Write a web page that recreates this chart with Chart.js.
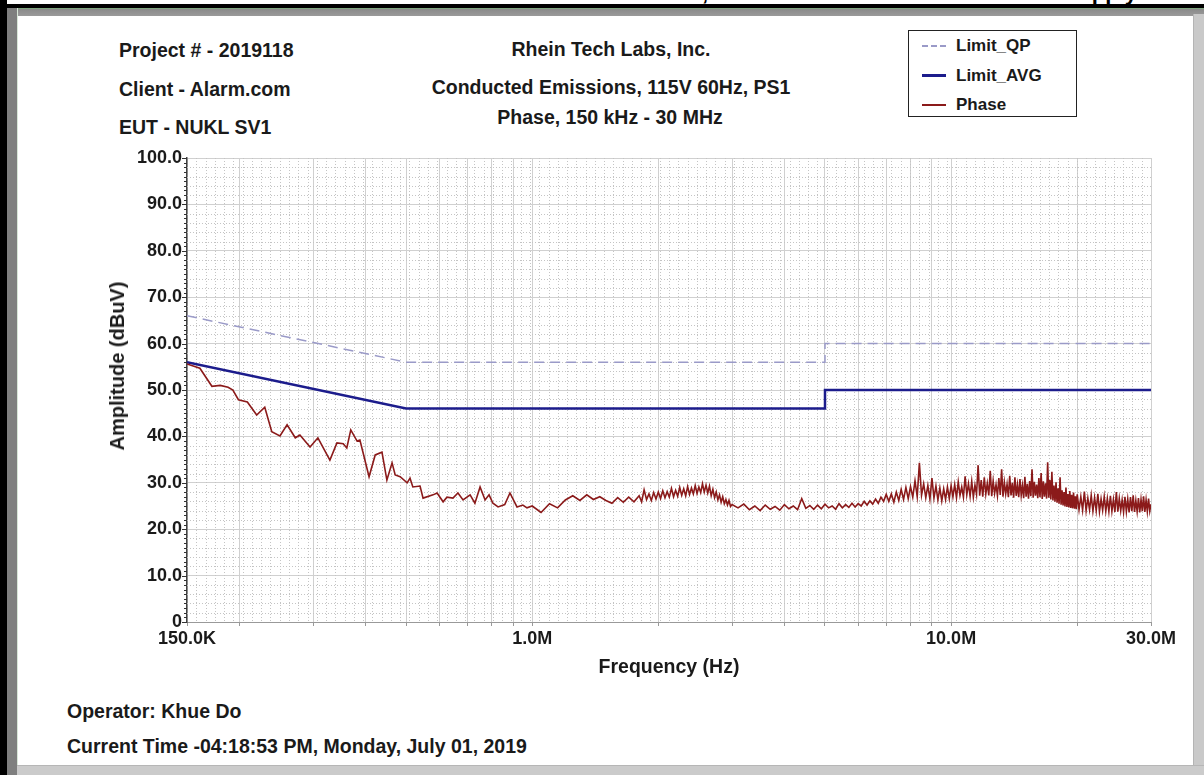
<!DOCTYPE html>
<html>
<head>
<meta charset="utf-8">
<script src="https://cdn.jsdelivr.net/npm/chart.js@4.4.0/dist/chart.umd.min.js"></script>
<style>
  body { margin: 0; width: 1204px; height: 775px; overflow: hidden; background: #fff;
         font-family: "Liberation Sans", Arial, sans-serif; position: relative; }
  .fr { position: absolute; }
  .t { position: absolute; font-weight: bold; font-size: 19.5px; line-height: 19.5px; color: #1a1a1a; white-space: nowrap; }
  .c { transform: translateX(-50%); }
  #ytitle { position: absolute; left: 117px; top: 366px; transform: translate(-50%, -50%) rotate(-90deg);
            font-weight: bold; font-size: 20px; line-height: 20px; color: #1a1a1a; white-space: nowrap; z-index: 2; }
  #topcut { position: absolute; left: 0; top: 0; width: 1204px; height: 4px; overflow: hidden; }
  #topcut span { position: absolute; top: -18px; font: bold 22px/22px "Liberation Sans", Arial, sans-serif; color: #000; white-space: nowrap; }
  #legend { position: absolute; left: 908px; top: 30px; width: 167px; height: 85px; border: 1px solid #222; background: #fff; z-index: 2; }
  #legend .row { position: absolute; left: 0; height: 20px; width: 100%; }
  #legend .sw { position: absolute; left: 13px; width: 24px; top: 9px; }
  #legend .lb { position: absolute; left: 47px; top: 1px; font-weight: bold; font-size: 17px; line-height: 18px; color: #1a1a1a; }
  #wrap { position: absolute; left: 0; top: 0; width: 1204px; height: 775px; z-index: 1; }
</style>
</head>
<body>
<!-- moldura da imagem -->
<div id="topcut"><span style="left:702px">,</span><span style="right:67px">Supply</span></div>
<div class="fr" style="left:0;top:4px;width:1204px;height:4px;background:#000"></div>
<div class="fr" style="left:0;top:0;width:7px;height:775px;background:#000"></div>
<div class="fr" style="left:7px;top:8px;width:1197px;height:8px;background:linear-gradient(#7fa67f 0,#7fa67f 1px,#8a8a8a 1px,#9a9a9a 8px)"></div>
<div class="fr" style="left:7px;top:8px;width:10px;height:767px;background:#7f7f7f;border-right:1px solid #d8e6d8"></div>
<div class="fr" style="left:1193px;top:14px;width:11px;height:761px;background:#c9c9c9;border-left:1px solid #b4b4b4"></div>
<div class="fr" style="left:17px;top:765px;width:1187px;height:10px;background:#cbcbcb;border-top:1px solid #b6b6b6"></div>

<!-- textos do cabeçalho e rodapé -->
<div class="t" style="left:119px;top:41px">Project # - 2019118</div>
<div class="t" style="left:119px;top:80px">Client - Alarm.com</div>
<div class="t" style="left:119px;top:118px">EUT - NUKL SV1</div>
<div class="t c" style="left:611px;top:40px">Rhein Tech Labs, Inc.</div>
<div class="t c" style="left:611px;top:78px">Conducted Emissions, 115V 60Hz, PS1</div>
<div class="t c" style="left:610px;top:108px">Phase, 150 kHz - 30 MHz</div>
<div class="t" style="left:67px;top:702px">Operator: Khue Do</div>
<div class="t" style="left:67px;top:737px">Current Time -04:18:53 PM, Monday, July 01, 2019</div>
<div id="ytitle">Amplitude (dBuV)</div>

<div id="legend">
  <div class="row" style="top:5px"><div class="sw" style="border-top:2px dashed #9a9ac8"></div><div class="lb">Limit_QP</div></div>
  <div class="row" style="top:35px"><div class="sw" style="border-top:3px solid #1c1c8c;top:8px"></div><div class="lb">Limit_AVG</div></div>
  <div class="row" style="top:64px"><div class="sw" style="border-top:2px solid #8b1a1a"></div><div class="lb">Phase</div></div>
</div>

<div id="wrap"><canvas id="grafico"></canvas></div>

<script>
// Limites (frequência em Hz, nível em dBuV)
const qpFreq = [150000, 500000, 5000000, 5000000, 30000000];
const qpLevel = [66, 56, 56, 60, 60];
const avgFreq = [150000, 500000, 5000000, 5000000, 30000000];
const avgLevel = [56, 46, 46, 50, 50];

// Varredura medida - fase, 150 kHz a 1.8 MHz (kHz / dBuV)
const phaseFreqA = [
  150, 161, 172, 180, 188, 193, 199, 209, 220, 230,
  239, 250, 260, 272, 279, 295, 308, 329, 342, 354,
  361, 369, 382, 388, 408, 422, 438, 450, 463, 471,
  484, 503, 511, 519, 540, 549, 580, 593, 613, 626,
  647, 665, 684, 711, 730, 751, 772, 789, 806, 829,
  860, 885, 920, 950, 972,
  1000, 1050, 1100, 1150, 1200, 1250, 1300, 1350, 1400, 1450,
  1500, 1550, 1600, 1650, 1700, 1750
];
const phaseLevelA = [
  55.6, 54.7, 50.8, 51.0, 50.6, 50.0, 47.9, 47.4, 44.6, 46.3,
  41.0, 40.1, 42.5, 39.7, 40.3, 37.7, 39.7, 34.9, 38.6, 38.4,
  37.5, 41.4, 39.0, 39.2, 31.3, 36.0, 36.6, 30.6, 34.3, 31.7,
  31.3, 30.0, 31.0, 29.1, 29.3, 26.7, 27.4, 27.8, 25.9, 26.9,
  26.7, 27.8, 26.3, 27.4, 25.6, 29.1, 26.3, 27.4, 25.6, 24.8,
  25.3, 27.8, 24.8, 25.2, 24.6,
  25.0, 23.6, 25.5, 24.6, 26.3, 27.2, 26.2, 27.4, 26.4, 27.0,
  26.2, 25.6, 26.8, 25.8, 26.9, 25.9
];

// 1.8 MHz a 7 MHz
const phaseFreqB = [
  1800, 1825, 1850, 1875, 1900, 1925, 1950, 1975, 2000, 2025,
  2050, 2075, 2100, 2125, 2150, 2175, 2200, 2225, 2250, 2275,
  2300, 2325, 2350, 2375, 2400, 2425, 2450, 2475, 2500, 2525,
  2550, 2575, 2600, 2625, 2650, 2675, 2700, 2725, 2750, 2775,
  2800, 2825, 2850, 2875, 2900, 2925, 2950, 2975, 3000,
  3100, 3200, 3300, 3400, 3500, 3600, 3700, 3800, 3900, 4000,
  4100, 4200, 4300, 4400, 4500, 4600, 4700, 4800, 4900, 5000,
  5100, 5200, 5300, 5400, 5500, 5600, 5700, 5800, 5900, 6000,
  6100, 6200, 6300, 6400, 6500, 6600, 6700, 6800, 6900, 7000
];
const phaseLevelB = [
  27.2, 25.9, 28.5, 26.4, 27.6, 26.2, 27.9, 26.5, 28.0, 26.6,
  28.3, 26.8, 28.1, 26.9, 28.8, 27.0, 28.4, 27.1, 29.0, 27.3,
  28.7, 27.2, 29.2, 27.5, 28.9, 27.6, 29.4, 27.7, 29.1, 27.9,
  29.8, 28.0, 29.5, 27.8, 29.3, 27.2, 28.6, 26.8, 28.0, 26.3,
  27.4, 25.8, 27.0, 25.5, 26.4, 25.2, 26.2, 24.9, 25.3,
  24.6, 25.4, 24.2, 25.0, 24.0, 25.2, 24.3, 24.9, 24.1, 25.3,
  24.4, 25.0, 24.2, 26.6, 24.5, 25.1, 24.3, 25.2, 24.4, 25.4,
  24.6, 25.0, 24.3, 25.5, 24.6, 25.3, 24.7, 25.6, 24.8, 25.5,
  25.0, 26.0, 25.2, 26.1, 25.4, 26.5, 25.6, 26.9, 26.0, 27.5
];

// 7 MHz a 30 MHz (faixa ruidosa)
const phaseFreqC = [
  7100, 7200, 7300, 7400, 7500, 7600, 7700, 7800, 7900, 8000,
  8100, 8200, 8300, 8400, 8500, 8600, 8700, 8800, 8900, 9000,
  9100, 9200, 9300, 9400, 9500, 9600, 9700, 9800, 9900, 10000,
  10100, 10200, 10300, 10400, 10500, 10600, 10700, 10800, 10900, 11000,
  11100, 11200, 11300, 11400, 11500, 11600, 11700, 11800, 11900, 12000,
  12100, 12200, 12300, 12400, 12500, 12600, 12700, 12800, 12900, 13000,
  13100, 13200, 13300, 13400, 13500, 13600, 13700, 13800, 13900, 14000,
  14100, 14200, 14300, 14400, 14500, 14600, 14700, 14800, 14900, 15000,
  15100, 15200, 15300, 15400, 15500, 15600, 15700, 15800, 15900, 16000,
  16100, 16200, 16300, 16400, 16500, 16600, 16700, 16800, 16900, 17000,
  17100, 17200, 17300, 17400, 17500, 17600, 17700, 17800, 17900, 18000,
  18100, 18200, 18300, 18400, 18500, 18600, 18700, 18800, 18900, 19000,
  19100, 19200, 19300, 19400, 19500, 19600, 19700, 19800, 19900, 20000,
  20200, 20400, 20600, 20800, 21000, 21200, 21400, 21600, 21800, 22000,
  22200, 22400, 22600, 22800, 23000, 23200, 23400, 23600, 23800, 24000,
  24200, 24400, 24600, 24800, 25000, 25200, 25400, 25600, 25800, 26000,
  26200, 26400, 26600, 26800, 27000, 27200, 27400, 27600, 27800, 28000,
  28200, 28400, 28600, 28800, 29000, 29200, 29400, 29600, 29800, 30000
];
const phaseLevelC = [
  26.0, 27.6, 25.8, 28.0, 26.2, 28.6, 26.4, 29.0, 26.6, 29.2,
  26.9, 30.4, 27.0, 34.3, 27.3, 29.8, 26.8, 29.4, 26.5, 31.0,
  26.7, 29.3, 26.3, 28.9, 26.1, 28.7, 26.4, 29.1, 26.6, 29.4,
  27.0, 29.6, 26.8, 30.2, 27.3, 29.1, 26.9, 31.4, 27.4, 29.8,
  27.1, 30.3, 26.9, 29.5, 27.5, 33.8, 27.2, 30.6, 27.0, 31.2,
  27.6, 29.9, 27.3, 32.6, 27.1, 30.4, 27.7, 29.6, 27.2, 31.0,
  27.4, 32.9, 27.0, 30.1, 27.6, 29.7, 26.9, 31.5, 27.3, 30.0,
  26.8, 31.2, 27.2, 29.6, 26.9, 30.8, 27.3, 29.4, 26.7, 31.3,
  27.0, 29.8, 26.6, 30.4, 27.1, 32.9, 26.8, 30.2, 27.2, 29.6,
  26.7, 31.0, 26.9, 32.1, 26.5, 30.3, 27.0, 29.9, 26.6, 34.4,
  26.8, 30.6, 26.4, 32.4, 26.2, 29.4, 25.9, 30.1, 25.7, 28.8,
  25.5, 31.2, 25.3, 28.4, 25.1, 28.0, 24.9, 29.0, 24.8, 27.6,
  24.7, 28.2, 24.6, 27.4, 24.5, 27.9, 24.4, 27.1, 24.3, 27.5,
  24.2, 27.0, 24.1, 28.1, 24.0, 26.7, 24.2, 27.3, 23.9, 26.8,
  24.0, 27.6, 23.8, 26.5, 24.1, 27.0, 23.9, 26.6, 23.8, 27.2,
  23.9, 26.4, 23.7, 28.0, 23.8, 26.6, 24.0, 26.3, 23.7, 27.0,
  23.8, 26.5, 23.6, 26.9, 23.9, 27.3, 23.7, 26.2, 23.8, 26.7,
  23.6, 26.4, 23.9, 27.1, 23.7, 26.3, 23.8, 26.6, 23.9, 25.4
];

// Eixo X: linhas de grade e rótulos
const xGridValues = [
  150000, 200000, 300000, 400000, 500000, 600000, 700000, 800000, 900000,
  1000000, 2000000, 3000000, 4000000, 5000000, 6000000, 7000000, 8000000, 9000000,
  10000000, 20000000, 30000000
];
const xTickValues = [150000, 1000000, 10000000, 30000000];
const xTickLabels = ["150.0K", "1.0M", "10.0M", "30.0M"];

// Junta frequência e nível em pontos {x, y}
function pontos(freqs, niveis, fator) {
  return freqs.map((f, i) => ({ x: f * fator, y: niveis[i] }));
}

const phasePontos = [].concat(
  pontos(phaseFreqA, phaseLevelA, 1000),
  pontos(phaseFreqB, phaseLevelB, 1000),
  pontos(phaseFreqC, phaseLevelC, 1000)
);

// Grade pontilhada fina e marcas menores do eixo Y
const gradeMenor = {
  id: "gradeMenor",
  beforeDatasetsDraw(chart) {
    const { ctx, chartArea: a, scales: { y } } = chart;
    ctx.save();
    ctx.strokeStyle = "#c4c4c4";
    ctx.lineWidth = 1;
    ctx.setLineDash([1, 2]);
    ctx.beginPath();
    for (let v = 2; v < 100; v += 2) {
      if (v % 10 === 0) continue;
      const py = Math.round(y.getPixelForValue(v)) + 0.5;
      ctx.moveTo(a.left, py);
      ctx.lineTo(a.right, py);
    }
    const n = 104;
    for (let i = 1; i < n; i++) {
      const px = Math.round(a.left + (a.right - a.left) * i / n) + 0.5;
      ctx.moveTo(px, a.top);
      ctx.lineTo(px, a.bottom);
    }
    ctx.stroke();

    ctx.setLineDash([]);
    ctx.strokeStyle = "#333";
    ctx.beginPath();
    for (let v = 0; v <= 100; v++) {
      const py = Math.round(y.getPixelForValue(v)) + 0.5;
      const len = v % 10 === 0 ? 5 : 3;
      ctx.moveTo(a.left - len, py);
      ctx.lineTo(a.left, py);
    }
    ctx.stroke();
    ctx.restore();
  }
};

Chart.defaults.font.family = '"Liberation Sans", Arial, sans-serif';
Chart.defaults.color = "#1a1a1a";

const ctx = document.getElementById("grafico");

new Chart(ctx, {
  type: "line",
  data: {
    datasets: [
      {
        label: "Phase",
        data: phasePontos,
        borderColor: "#8b1a1a",
        borderWidth: 1.6,
        pointRadius: 0,
        order: 0
      },
      {
        label: "Limit_AVG",
        data: pontos(avgFreq, avgLevel, 1),
        borderColor: "#1c1c8c",
        borderWidth: 2.5,
        pointRadius: 0,
        order: 1
      },
      {
        label: "Limit_QP",
        data: pontos(qpFreq, qpLevel, 1),
        borderColor: "#9a9ac8",
        borderWidth: 1.5,
        borderDash: [10, 6],
        pointRadius: 0,
        order: 2
      }
    ]
  },
  options: {
    responsive: true,
    maintainAspectRatio: false,
    animation: false,
    layout: { padding: { left: 103, right: 53, top: 158, bottom: 92 } },
    plugins: { legend: { display: false }, tooltip: { enabled: false } },
    scales: {
      x: {
        type: "logarithmic",
        min: 150000,
        max: 30000000,
        afterBuildTicks: (s) => { s.ticks = xGridValues.map(v => ({ value: v })); },
        afterFit: (s) => { s.height = 61; },
        ticks: {
          autoSkip: false,
          maxRotation: 0,
          padding: 2,
          font: { size: 18, weight: "bold" },
          callback: (v) => {
            const i = xTickValues.indexOf(v);
            return i >= 0 ? xTickLabels[i] : "";
          }
        },
        grid: { color: "#d0d0d0", tickLength: 4, tickColor: "#999" },
        border: { color: "#999", width: 1 },
        title: {
          display: true,
          text: "Frequency (Hz)",
          font: { size: 19.5, weight: "bold" },
          padding: { top: 4, bottom: 4 }
        }
      },
      y: {
        min: 0,
        max: 100,
        afterFit: (s) => { s.width = 84; },
        ticks: {
          stepSize: 10,
          padding: 5,
          font: { size: 18, weight: "bold" },
          callback: (v) => (v === 0 ? "0" : v.toFixed(1))
        },
        grid: { color: "#d0d0d0", drawTicks: false },
        border: { color: "#444", width: 1.5 }
      }
    }
  },
  plugins: [gradeMenor]
});
</script>
</body>
</html>
